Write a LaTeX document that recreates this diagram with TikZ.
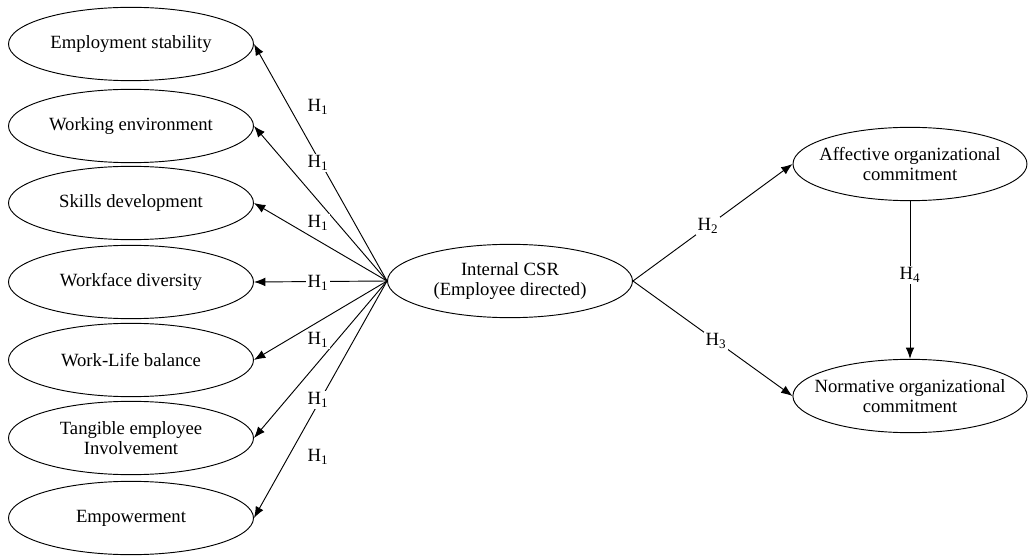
\documentclass[tikz,border=0pt]{standalone}
\usepackage{fontspec}
\setmainfont{Liberation Serif}
\usepackage{tikz}
\usetikzlibrary{shapes.geometric}
\usetikzlibrary{arrows.meta}

\tikzset{
  construct/.style={draw, ellipse, inner sep=0pt, align=center, minimum width=183.75pt, minimum height=55pt, line width=0.7pt, font=\fontsize{14}{15.5}\selectfont},
  hyp/.style={fill=white, inner sep=1pt, font=\fontsize{14}{15.5}\selectfont},
  link/.style={-{Latex[length=8.5pt,width=6.5pt]}, line width=0.7pt}
}

\begin{document}
\begin{tikzpicture}[x=0.75pt, y=-0.75pt]
            \useasboundingbox (0,0) rectangle (1029,556);

            \node[construct] (ES) at (131,44) {Employment stability};
            \node[construct] (WE) at (131,126) {Working environment};
            \node[construct] (SD) at (131,203) {Skills development};
            \node[construct] (WD) at (131,282) {Workface diversity};
            \node[construct] (WL) at (131,360) {Work-Life balance};
            \node[construct] (TI) at (131,438) {Tangible employee\\Involvement};
            \node[construct] (EM) at (131,518) {Empowerment};

            \node[construct] (CSR) at (510,281) {Internal CSR\\(Employee directed)};

            \node[construct, inner xsep=-6pt, minimum width=175.5pt] (AC) at (910,164) {Affective organizational\\commitment};
            \node[construct, inner xsep=-9.5pt, minimum width=175.5pt] (NC) at (910,396) {Normative organizational\\commitment};

            \draw[link] (CSR.west) -- (ES.east);
            \draw[link] (CSR.west) -- (WE.east);
            \draw[link] (CSR.west) -- (SD.east);
            \draw[link] (CSR.west) -- (WD.east);
            \draw[link] (CSR.west) -- (WL.east);
            \draw[link] (CSR.west) -- (TI.east);
            \draw[link] (CSR.west) -- (EM.east);

            \node[hyp] (h1a) at (318,107) {H\textsubscript{1}};
            \node[hyp] (h1b) at (318,163) {H\textsubscript{1}};
            \node[hyp] (h1c) at (318,223) {H\textsubscript{1}};
            \node[hyp] (h1d) at (318,283) {H\textsubscript{1}};
            \node[hyp] (h1e) at (318,340) {H\textsubscript{1}};
            \node[hyp] (h1f) at (318,400) {H\textsubscript{1}};
            \node[hyp] (h1g) at (318,457) {H\textsubscript{1}};

            \draw[link] (CSR.east) -- node[hyp, pos=0.47] {H\textsubscript{2}} (AC.west);
            \draw[link] (CSR.east) -- node[hyp, pos=0.52] {H\textsubscript{3}} (NC.west);
            \draw[link] (AC.south) -- node[hyp, pos=0.47] {H\textsubscript{4}} (NC.north);
        \end{tikzpicture}
\end{document}
